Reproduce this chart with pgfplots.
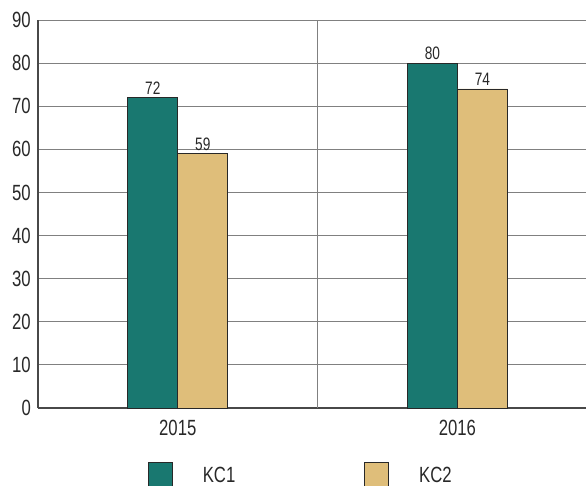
\documentclass[border=0pt]{standalone}
\usepackage{pgfplots}
\pgfplotsset{compat=1.18}
\usepackage{fontspec}
\setmainfont{Liberation Sans}[FakeStretch=0.76]
\definecolor{kcteal}{RGB}{25,120,112}
\definecolor{kctan}{RGB}{223,190,122}
\definecolor{txt}{RGB}{40,40,40}
\definecolor{gridg}{RGB}{128,128,128}
\begin{document}
\begin{tikzpicture}
\begin{axis}[
    scale only axis,
    width=548pt, height=388pt,
    ybar=0pt, bar width=50pt,
    xmin=-0.5, xmax=1.46,
    ymin=0, ymax=90,
    enlargelimits=false,
    xtick={0,1}, xticklabels={2015,2016},
    ytick={0,10,...,90},
    major tick length=0pt,
    ymajorgrids=true,
    major grid style={gridg, line width=0.8pt},
    extra x ticks={0.5}, extra x tick labels={},
    extra x tick style={xmajorgrids=true, major grid style={gridg, line width=0.8pt}},
    axis x line*=bottom, axis y line*=left,
    axis line style={-, draw=txt!85, line width=1.2pt},
    /pgf/number format/assume math mode=true,
    yticklabel style={font=\fontsize{22}{24}\selectfont, text=txt, inner sep=0pt, xshift=-7pt},
    xticklabel style={font=\fontsize{22}{24}\selectfont, text=txt, inner sep=0pt, anchor=north, yshift=-12pt},
    nodes near coords,
    every node near coord/.append style={font=\fontsize{18}{20}\selectfont, text=txt, inner sep=0pt, anchor=south, yshift=3pt},
    legend columns=2,
    legend style={draw=none, fill=none, inner sep=0pt, outer sep=0pt,
        at={(0.2007,-0.1392)}, anchor=north west,
        font=\fontsize{22}{24}\selectfont, text=txt,
        nodes={inner sep=0pt},
        /tikz/every odd column/.append style={column sep=30pt},
        /tikz/every even column/.append style={column sep=129pt}},
    legend image code/.code={\draw[#1] (0pt,-11pt) rectangle (24pt,13pt);},
]
\addplot[fill=kcteal, draw=txt, line width=0.8pt] coordinates {(0,72) (1,80)};
\addlegendentry{KC1}
\addplot[fill=kctan, draw=txt, line width=0.8pt] coordinates {(0,59) (1,74)};
\addlegendentry{KC2}
\end{axis}
\pgfresetboundingbox
\path[use as bounding box] (-38pt,-77pt) rectangle (548pt,408pt);
\end{tikzpicture}
\end{document}
